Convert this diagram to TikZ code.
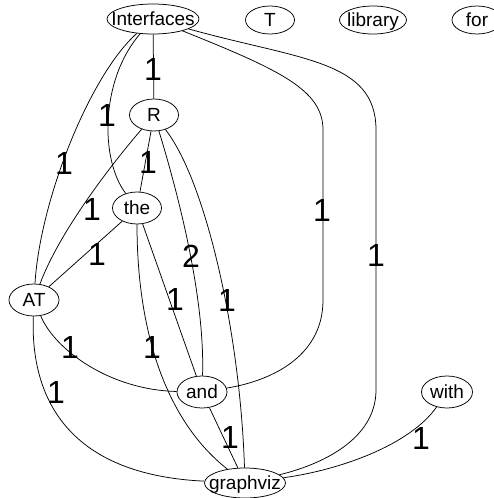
\documentclass[tikz,border=0pt]{standalone}
\usepackage{fontspec}
\setmainfont{Liberation Sans}
\usetikzlibrary{shapes.geometric}

% word text sits in a box of no size, so the ellipse keeps its own size
\newcommand{\wordtext}[1]{\makebox[0pt]{\smash{\raisebox{-0.36em}{#1}}}}

\begin{document}
\begin{tikzpicture}[x=1pt, y=-1pt, line width=0.75pt,
    word/.style={draw, ellipse, inner sep=0pt, minimum height=32pt,
        font=\fontsize{19}{19}\selectfont},
    weight/.style={inner sep=0pt, font=\fontsize{32}{32}\selectfont}]
    \useasboundingbox (0,0) rectangle (494,498);
    % words
    \node[word, minimum width=92pt, minimum height=30pt] (Interfaces) at (153,19) {\wordtext{Interfaces}};
    \node[word, minimum width=49pt, minimum height=28pt] (T) at (270,20) {\wordtext{T}};
    \node[word, minimum width=67pt, minimum height=28pt] (library) at (373,20) {\wordtext{library}};
    \node[word, minimum width=50pt, minimum height=28pt] (for) at (477,20) {\wordtext{for}};
    \node[word, minimum width=49pt] (R) at (154,115) {\wordtext{R}};
    \node[word, minimum width=49pt] (the) at (137,208) {\wordtext{the}};
    \node[word, minimum width=50pt] (AT) at (34,300) {\wordtext{AT}};
    \node[word, minimum width=50pt] (and) at (202,392) {\wordtext{and}};
    \node[word, minimum width=51pt] (with) at (447,392) {\wordtext{with}};
    \node[word, minimum width=81pt, minimum height=30pt] (graphviz) at (245,483) {\wordtext{graphviz}};
    % links
    \draw (Interfaces) -- (R);
    \draw (Interfaces) .. controls (100,80) and (100,160) .. (the);
    \draw (Interfaces) .. controls (90,75) and (40,200) .. (AT);
    \draw (Interfaces) .. controls (280,70) and (323,90) .. (323,130)
        -- (323,300) .. controls (323,360) and (265,382) .. (and);
    \draw (Interfaces) .. controls (300,60) and (376,60) .. (376,130)
        -- (376,390) .. controls (376,440) and (320,465) .. (graphviz);
    \draw (R) -- (the);
    \draw (R) .. controls (115,160) and (60,230) .. (AT);
    \draw (R) .. controls (180,200) and (205,300) .. (and);
    \draw (R) .. controls (205,180) and (240,330) .. (graphviz);
    \draw (the) -- (AT);
    \draw (the) -- (and);
    \draw (the) .. controls (137,330) and (165,420) .. (graphviz);
    \draw (AT) .. controls (55,350) and (110,390) .. (and);
    \draw (AT) .. controls (30,400) and (70,475) .. (graphviz);
    \draw (and) -- (graphviz);
    \draw (with) .. controls (410,445) and (340,470) .. (graphviz);
    % weights
    \node[weight] (wIR) at (153,69) {1};
    \node[weight] (wIthe) at (107,115) {1};
    \node[weight] (wIAT) at (64,163) {1};
    \node[weight] (wIand) at (322,210) {1};
    \node[weight] (wIgraphviz) at (376,255) {1};
    \node[weight] (wRthe) at (148,162) {1};
    \node[weight] (wRAT) at (92,209) {1};
    \node[weight] (wRand) at (191,256) {2};
    \node[weight] (wRgraphviz) at (227,300) {1};
    \node[weight] (wtheAT) at (97,254) {1};
    \node[weight] (wtheand) at (175,299) {1};
    \node[weight] (wthegraphviz) at (152,347) {1};
    \node[weight] (wATand) at (70,347) {1};
    \node[weight] (wATgraphviz) at (56,392) {1};
    \node[weight] (wandgraphviz) at (230,437) {1};
    \node[weight] (wwithgraphviz) at (421,438) {1};
\end{tikzpicture}
\end{document}
